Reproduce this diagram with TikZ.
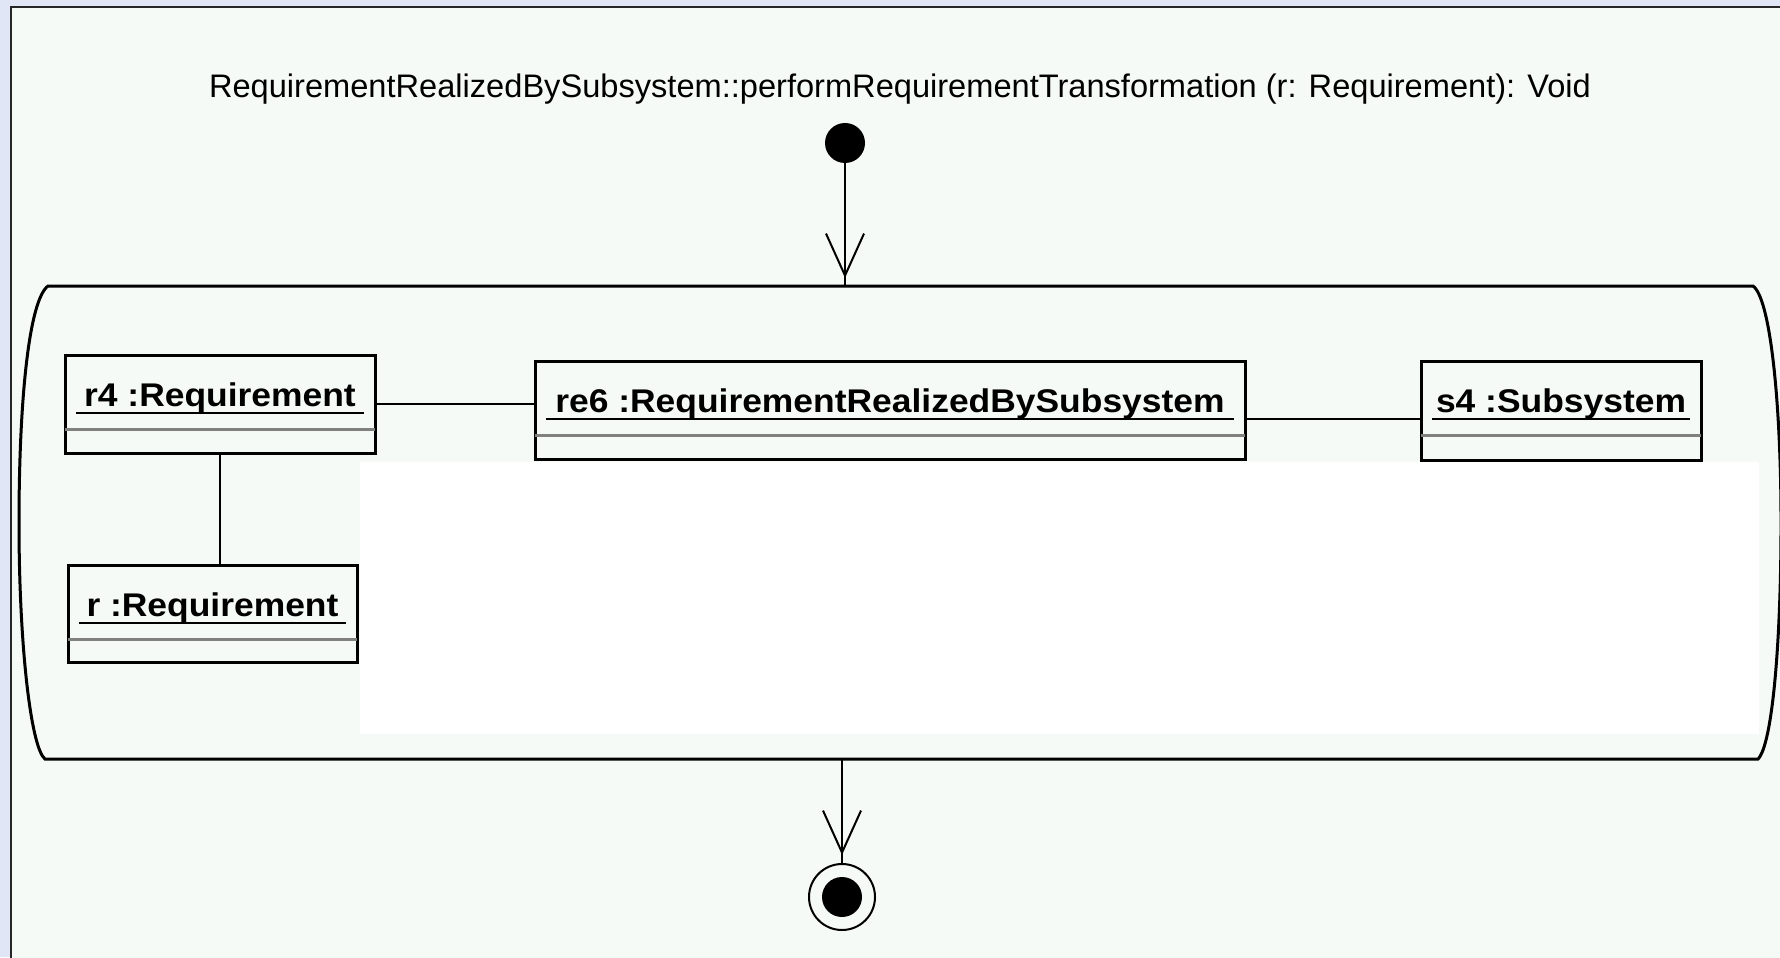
\documentclass[tikz,border=0pt]{standalone}
\usepackage{fontspec}
\setmainfont{Liberation Sans}
\newfontfamily\objfont{Liberation Sans}[FakeStretch=1.08]
\usetikzlibrary{arrows.meta,decorations.markings,fit}

\definecolor{deskbg}{RGB}{224,230,245}
\definecolor{panelbg}{RGB}{245,250,247}
\definecolor{sepgray}{RGB}{128,128,128}

\tikzset{
  objbox/.style={draw=black, line width=1.5pt, inner sep=0pt},
  sepline/.style={draw=sepgray, line width=1.5pt},
  ulline/.style={draw=black, line width=1.2pt},
  objlabel/.style={font=\objfont\bfseries\fontsize{16.4}{19}\selectfont, anchor=base, inner sep=0pt},
  link/.style={draw=black, line width=1.1pt},
  flow/.style={draw=black, line width=1.1pt, postaction={decorate},
    decoration={markings, mark=at position -4pt with {\arrow{Straight Barb[length=21pt,width=19pt,line width=1pt]}}}},
  actline/.style={draw=black, line width=1.5pt},
}

% object box: name, x1, y1, x2, y2, label (pixel-like units, y downwards)
\newcommand\objectbox[6]{%
  \node[objbox, fit={(#2,#3) (#4,#5)}] (#1) {};
  \draw[sepline] (#2,#3+74) -- (#4,#3+74);
  \draw[ulline] (#2+11,#3+58) -- (#4-11,#3+58);
  \node[objlabel] (#1-text) at ({(#2+#4)/2},#3+51) {#6};
}

\begin{document}
\begin{tikzpicture}[x=0.5pt, y=-0.5pt]
  \useasboundingbox (0,0) rectangle (1780,957);
  \fill[deskbg] (0,0) rectangle (1780,957);
  \fill[panelbg] (11,7) rectangle (1790,965);
  \draw[line width=1pt, black!85] (11,965) -- (11,7) -- (1790,7);

  \node[font=\fontsize{16.3}{19}\selectfont, anchor=base, inner sep=0pt] (title) at (900,98)
    {RequirementRealizedBySubsystem::performRequirementTransformation (r: Requirement): Void};

  % empty white area inside the action
  \fill[white] (360,462) rectangle (1759,734);

  % action state outline
  \draw[actline] (48,286) -- (1753,286)
    .. controls (1770,298) and (1781,400) .. (1781,523)
    .. controls (1781,646) and (1772,745) .. (1758,759)
    -- (45,759)
    .. controls (31,748) and (19,646) .. (19,523)
    .. controls (19,400) and (29,300) .. cycle;
  \coordinate (act-top) at (845,286);
  \coordinate (act-bottom) at (842,759);

  % objects
  \objectbox{r4}{65}{355}{375}{453}{r4 :Requirement}
  \objectbox{r}{68}{565}{357}{662}{r :Requirement}
  \objectbox{re6}{535}{361}{1245}{459}{re6 :RequirementRealizedBySubsystem}
  \objectbox{s4}{1421}{361}{1701}{460}{s4 :Subsystem}

  \draw[link] (r4.east) -- (r4.east -| re6.west);
  \draw[link] (r4.south) -- (r4.south |- r.north);
  \draw[link] ([yshift=-4.5pt]re6.east) -- ([yshift=-4.5pt]re6.east -| s4.west);

  % initial and final states
  \node[circle, fill=black, inner sep=0pt, minimum size=20pt] (start) at (845,143) {};
  \node[circle, draw=black, line width=1pt, inner sep=0pt, minimum size=33pt] (final) at (842,897) {};
  \node[circle, fill=black, inner sep=0pt, minimum size=20pt] (final-dot) at (final.center) {};

  \draw[flow] (start) -- (act-top);
  \draw[flow] (act-bottom) -- (final);
\end{tikzpicture}
\end{document}
